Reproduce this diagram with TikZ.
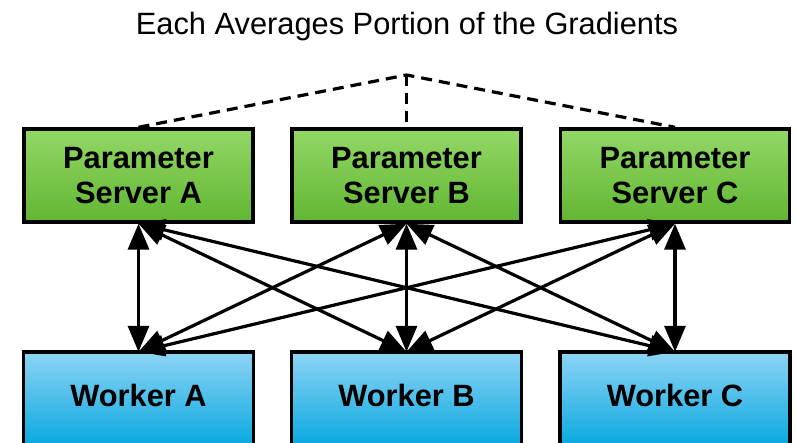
\documentclass[tikz,border=0pt]{standalone}
\usepackage{fontspec}
\setmainfont{Liberation Sans}
\usetikzlibrary{arrows.meta}
\definecolor{gtop}{RGB}{146,216,102}
\definecolor{gbot}{RGB}{98,182,50}
\definecolor{btop}{RGB}{142,212,245}
\definecolor{bbot}{RGB}{0,166,222}
\tikzset{
  server/.style={draw=black, line width=3.4pt, top color=gtop, bottom color=gbot,
    minimum width=229pt, minimum height=93pt, align=center, inner sep=0pt,
    font=\fontsize{30.8}{35}\selectfont\bfseries},
  worker/.style={minimum width=229pt, minimum height=86pt, inner sep=0pt,
    font=\fontsize{30.8}{35}\selectfont\bfseries},
  workerbox/.style={draw=black, line width=3.4pt, top color=btop, bottom color=bbot},
  link/.style={line width=3.2pt, {Triangle[length=26pt,width=21pt]}-{Triangle[length=26pt,width=21pt]}},
  dashline/.style={line width=3.2pt, dash pattern=on 11pt off 7pt},
  titletext/.style={font=\fontsize{30.8}{35}\selectfont, anchor=base}
}
\begin{document}
\begin{tikzpicture}[x=1pt,y=1pt]
\useasboundingbox (0,0) rectangle (796,443);
\clip (0,0) rectangle (796,443);
% title
\node[titletext] (t) at (407,408) {Each Averages Portion of the Gradients};
% worker boxes (extend below picture edge)
\path[workerbox] (23.5,91) rectangle (253.5,-8);
\path[workerbox] (291.5,91) rectangle (521.5,-8);
\path[workerbox] (560,91) rectangle (790,-8);
% servers
\node[server] (sa) at (138.5,267.5) {Parameter\\Server A};
\node[server] (sb) at (406.5,267.5) {Parameter\\Server B};
\node[server] (sc) at (675,267.5) {Parameter\\Server C};
% workers
\node[worker] (wa) at (138.5,48) {Worker A};
\node[worker] (wb) at (406.5,48) {Worker B};
\node[worker] (wc) at (675,48) {Worker C};
% apex
\coordinate (apex) at (406.5,368);
\draw[dashline] (sa.north) -- (apex) -- (sc.north);
\draw[dashline] (apex) -- (sb.north);
% links
\foreach \s in {sa,sb,sc}{
  \foreach \w in {wa,wb,wc}{
    \draw[link] (\s.south) -- (\w.north);
  }
}
\end{tikzpicture}
\end{document}
